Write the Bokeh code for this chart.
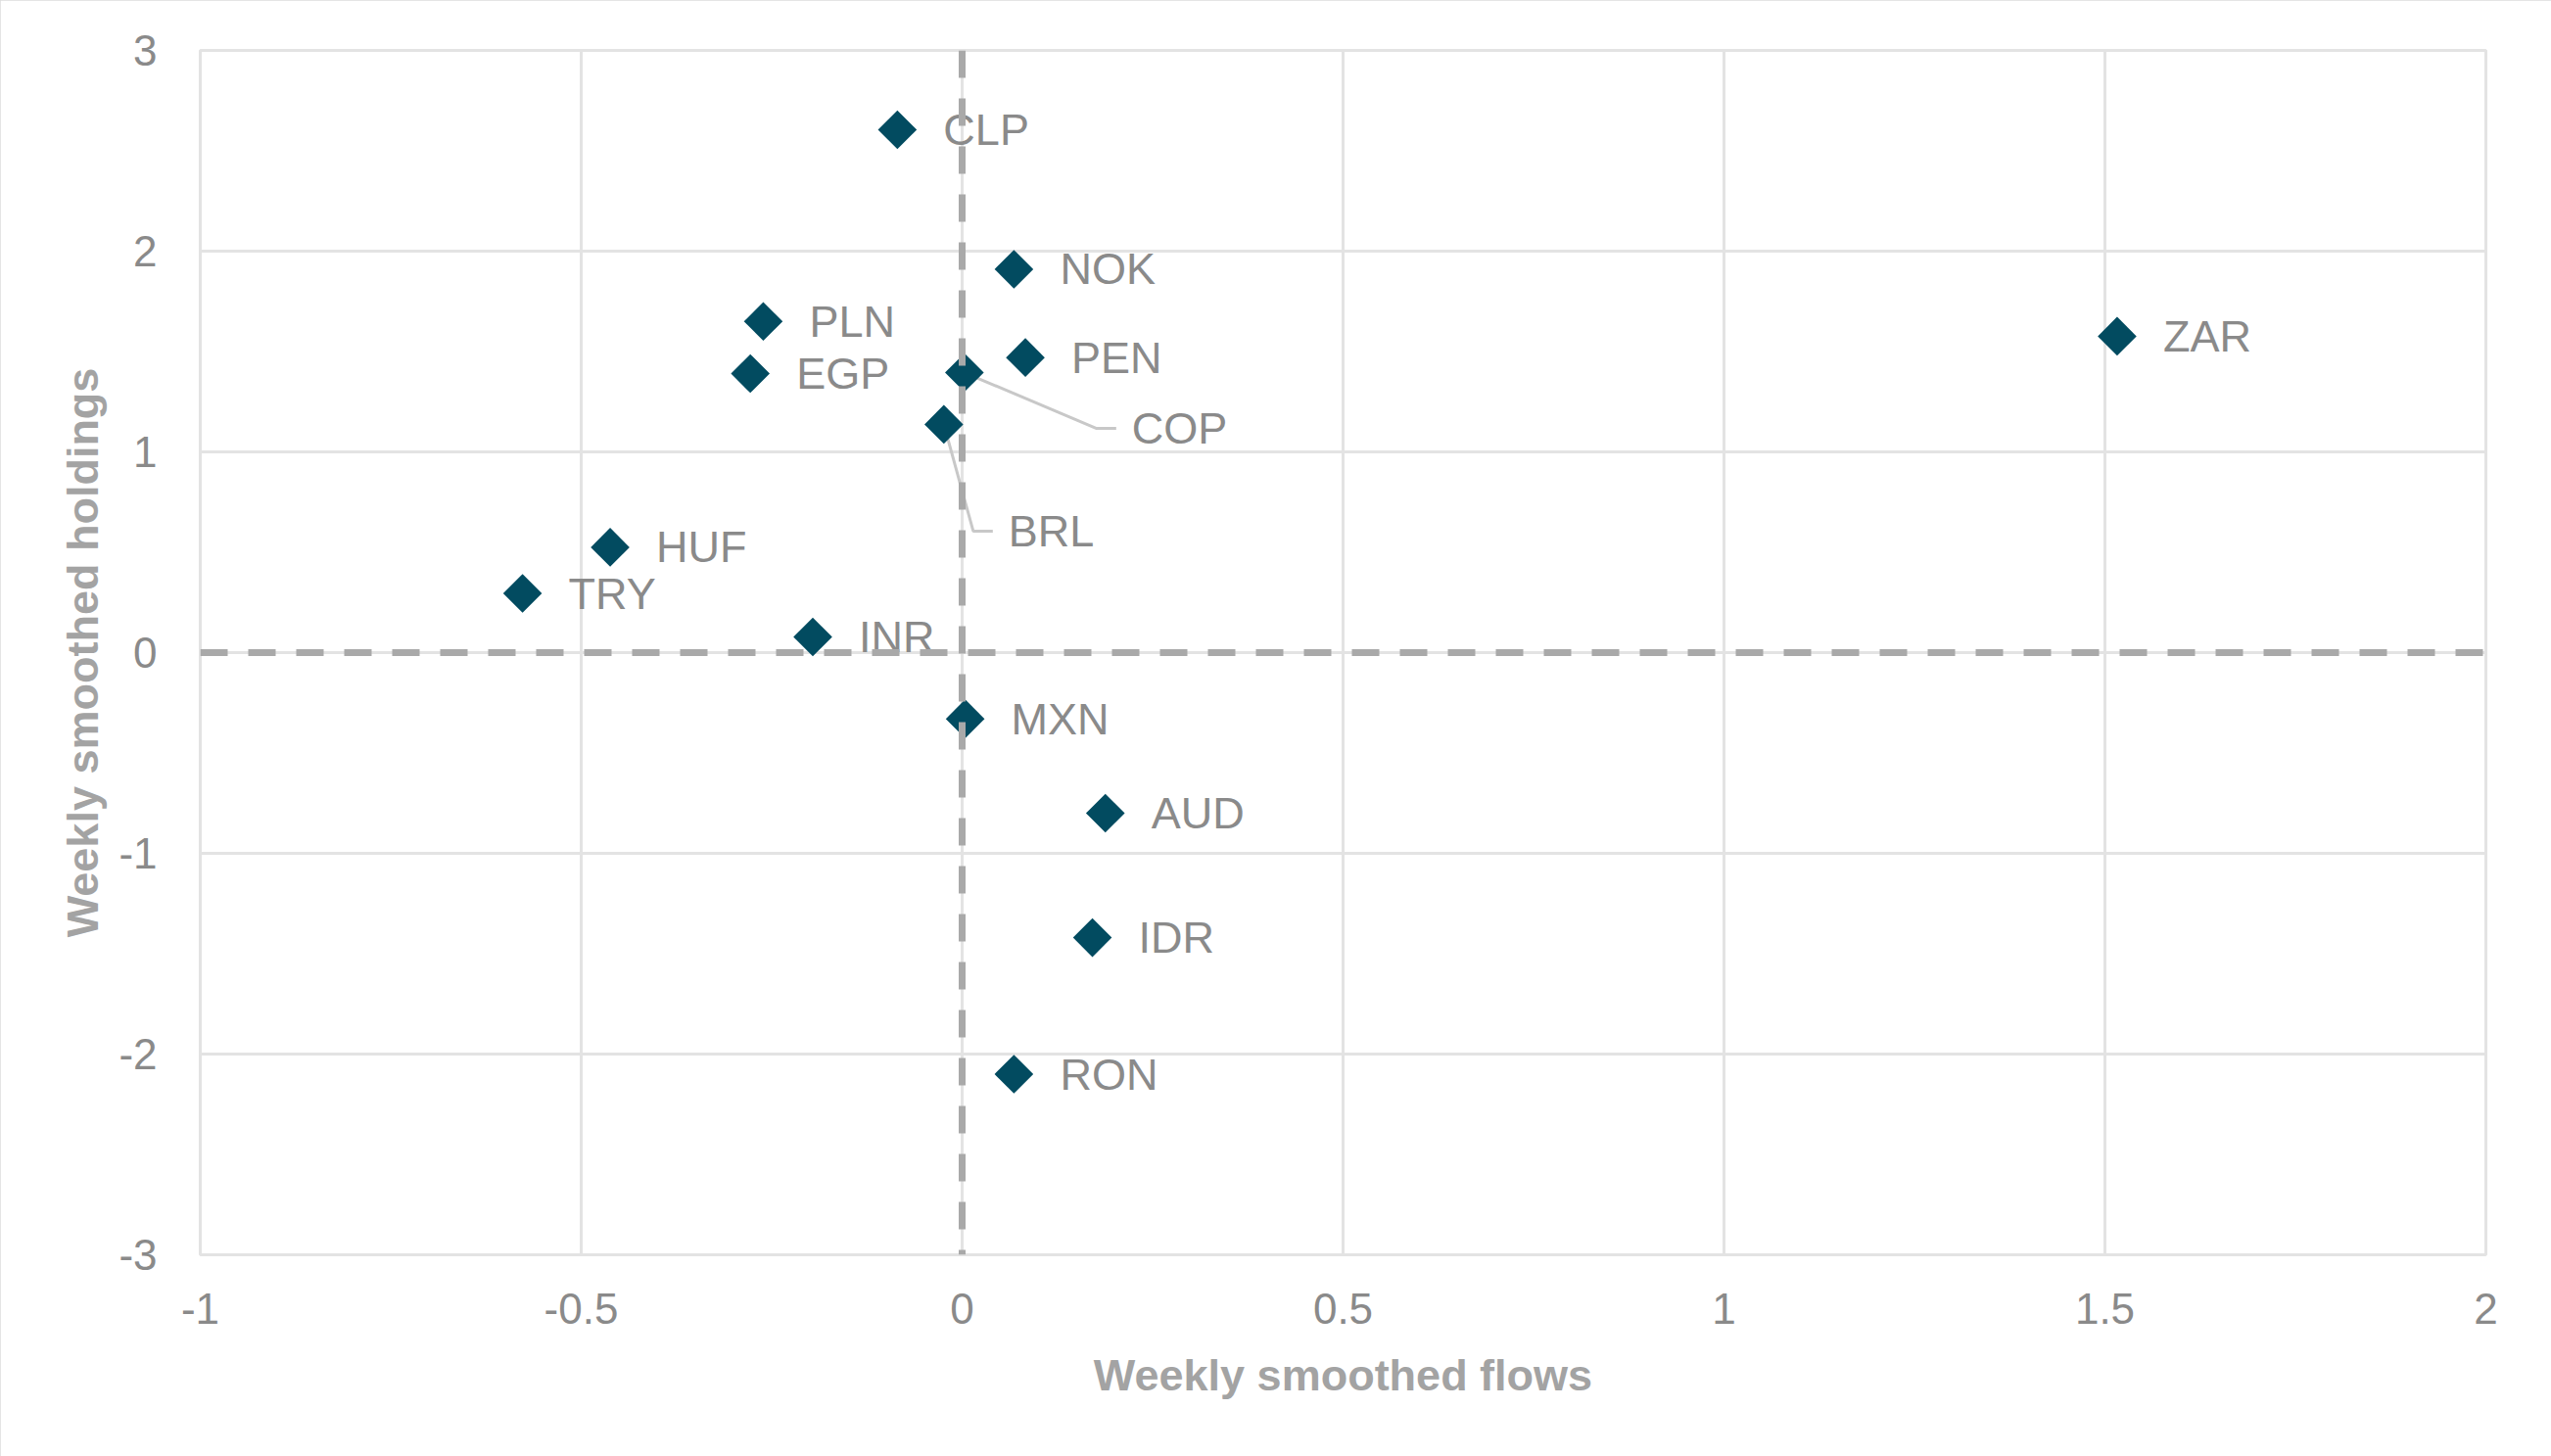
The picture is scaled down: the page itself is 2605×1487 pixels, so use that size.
from bokeh.plotting import figure
from bokeh.models import ColumnDataSource, FixedTicker, CustomJSTickFormatter, Span
from bokeh.core.properties import value
from bokeh.embed import file_html
from bokeh.resources import INLINE

# ---- data ----
currencies = ["CLP", "NOK", "PLN", "EGP", "PEN", "COP", "BRL", "ZAR",
              "HUF", "TRY", "INR", "MXN", "AUD", "IDR", "RON"]
flows = [-0.085, 0.068, -0.261, -0.278, 0.083, 0.003, -0.024, 1.516,
         -0.462, -0.577, -0.196, 0.004, 0.188, 0.171, 0.068]
holdings = [2.605, 1.91, 1.65, 1.39, 1.47, 1.395, 1.137, 1.576,
            0.525, 0.295, 0.078, -0.33, -0.80, -1.42, -2.10]

x_ticks = [-1, -0.5, 0, 0.5, 1, 1.5, 2]
x_tick_labels = ["-1", "-0.5", "0", "0.5", "1", "1.5", "2"]
y_ticks = [-3, -2, -1, 0, 1, 2, 3]
y_tick_labels = ["-3", "-2", "-1", "0", "1", "2", "3"]

x_title = "Weekly smoothed flows"
y_title = "Weekly smoothed holdings"

# ---- layout / style ----
W, H = 2605, 1487
LEFT, RIGHT, TOP, BOTTOM = 204, 67, 51, 206
XR = (-1, 2)
YR = (-3, 3)
px_per_x = (W - LEFT - RIGHT) / (XR[1] - XR[0])
px_per_y = (H - TOP - BOTTOM) / (YR[1] - YR[0])

MARKER = "#024b60"
TEXT = "#8a8a8a"
TITLE = "#a3a3a3"
GRID = "#e3e3e3"
DASH = "#a9a9a9"
LEADER = "#c8c8c8"
FONT = "Liberation Sans"

# label offsets in screen px (default: right of marker); special leader-line labels
default_dx, default_dy = 47, 0
label_off = {"COP": (171, 57), "BRL": (66, 109)}
leader_pts = {"COP": [(135, 57), (155, 57)], "BRL": [(30, 109), (50, 109)]}

p = figure(width=W, height=H, x_range=XR, y_range=YR,
           output_backend="svg", toolbar_location=None,
           min_border_left=LEFT, min_border_right=RIGHT,
           min_border_top=TOP, min_border_bottom=BOTTOM,
           background_fill_color="white", border_fill_color="white")
p.styles = {"outline": "3px solid #dcdcdc", "outline-offset": "-3px"}

p.outline_line_color = GRID
p.outline_line_width = 3

for ax, ticks, labs in ((p.xaxis[0], x_ticks, x_tick_labels), (p.yaxis[0], y_ticks, y_tick_labels)):
    ax.ticker = FixedTicker(ticks=ticks)
    ax.formatter = CustomJSTickFormatter(args=dict(vals=ticks, labs=labs), code="""
        const i = vals.findIndex(v => Math.abs(v - tick) < 1e-9);
        return i >= 0 ? labs[i] : String(tick);
    """)
    ax.axis_line_color = None
    ax.major_tick_line_color = None
    ax.minor_tick_line_color = None
    ax.major_label_text_font = FONT
    ax.major_label_text_font_size = "44px"
    ax.major_label_text_color = TEXT
    ax.axis_label_text_font = FONT
    ax.axis_label_text_font_size = "45px"
    ax.axis_label_text_font_style = "bold"
    ax.axis_label_text_color = TITLE

p.xaxis.axis_label = x_title
p.yaxis.axis_label = y_title
p.xaxis.major_label_standoff = 33
p.yaxis.major_label_standoff = 38
p.xaxis.axis_label_standoff = 24
p.yaxis.axis_label_standoff = 8

p.xgrid.ticker = FixedTicker(ticks=x_ticks)
p.ygrid.ticker = FixedTicker(ticks=y_ticks)
p.grid.grid_line_color = GRID
p.grid.grid_line_width = 3

# zero lines
for dim in ("height", "width"):
    p.add_layout(Span(location=0, dimension=dim, line_color=DASH,
                      line_width=7, line_dash="28 21"))

# leader lines
for name, pts in leader_pts.items():
    i = currencies.index(name)
    x0, y0 = flows[i], holdings[i]
    xs = [x0] + [x0 + dx / px_per_x for dx, dy in pts]
    ys = [y0] + [y0 - dy / px_per_y for dx, dy in pts]
    p.line(xs, ys, line_color=LEADER, line_width=3)

src = ColumnDataSource(dict(
    x=flows, y=holdings, name=currencies,
    dx=[label_off.get(c, (default_dx, default_dy))[0] for c in currencies],
    dy=[label_off.get(c, (default_dx, default_dy))[1] for c in currencies],
))

p.scatter("x", "y", source=src, marker="square", size=28, angle=45,
          angle_units="deg", fill_color=MARKER, line_color=MARKER, line_width=0)

p.text("x", "y", text="name", source=src, x_offset="dx", y_offset="dy",
       text_font=value(FONT), text_font_size="45px", text_color=TEXT,
       text_baseline="middle", text_align="left")

open("out.html", "w").write(file_html(p, INLINE))
